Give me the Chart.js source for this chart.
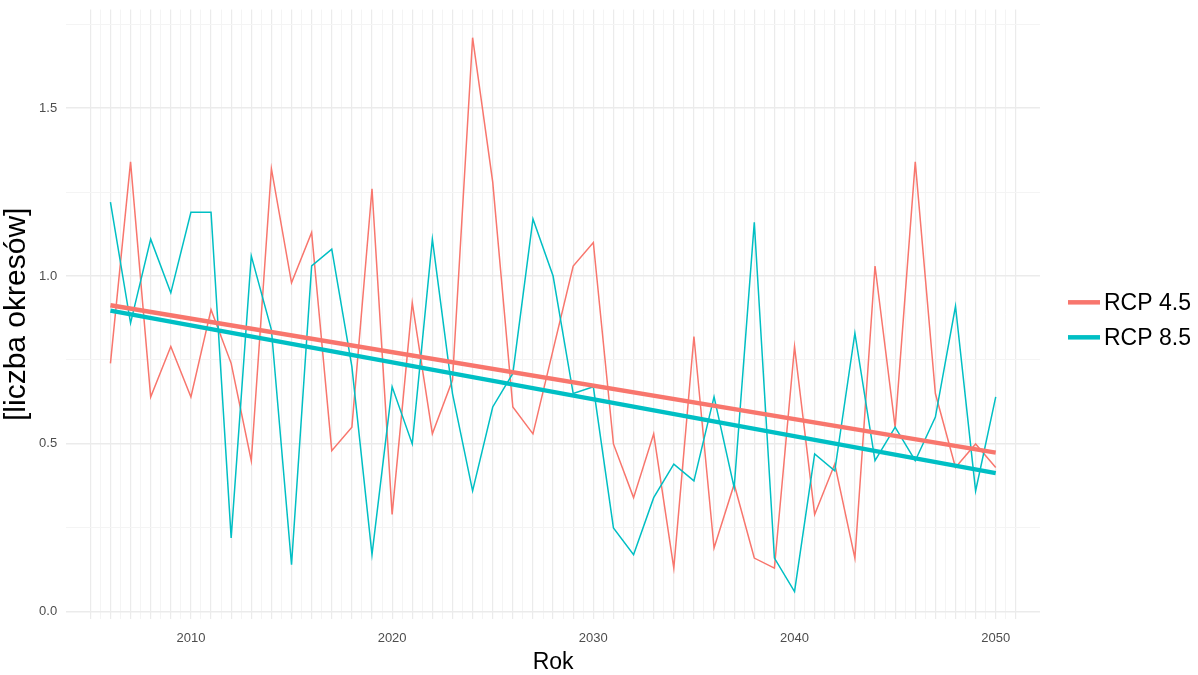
<!DOCTYPE html>
<html>
<head>
<meta charset="utf-8">
<script src="https://cdn.jsdelivr.net/npm/chart.js@4.4.1/dist/chart.umd.min.js"></script>
<style>
  html, body { margin: 0; padding: 0; background: #fff; }
</style>
</head>
<body>
<canvas id="chart" width="1198" height="675"></canvas>
<script>
var years = [2006, 2007, 2008, 2009, 2010, 2011, 2012, 2013, 2014, 2015,
  2016, 2017, 2018, 2019, 2020, 2021, 2022, 2023, 2024, 2025,
  2026, 2027, 2028, 2029, 2030, 2031, 2032, 2033, 2034, 2035,
  2036, 2037, 2038, 2039, 2040, 2041, 2042, 2043, 2044, 2045,
  2046, 2047, 2048, 2049, 2050];

var rcp45 = [0.74, 1.34, 0.64, 0.79, 0.64, 0.90, 0.74, 0.45, 1.32, 0.98,
  1.13, 0.48, 0.55, 1.26, 0.29, 0.92, 0.53, 0.69, 1.71, 1.28,
  0.61, 0.53, 0.78, 1.03, 1.10, 0.50, 0.34, 0.53, 0.13, 0.82,
  0.19, 0.38, 0.16, 0.13, 0.79, 0.29, 0.44, 0.16, 1.03, 0.55,
  1.34, 0.65, 0.43, 0.50, 0.43];

var rcp85 = [1.22, 0.86, 1.11, 0.95, 1.19, 1.19, 0.22, 1.06, 0.84, 0.14,
  1.03, 1.08, 0.73, 0.17, 0.67, 0.50, 1.11, 0.65, 0.36, 0.61,
  0.71, 1.17, 1.00, 0.65, 0.67, 0.25, 0.17, 0.34, 0.44, 0.39,
  0.64, 0.37, 1.16, 0.16, 0.06, 0.47, 0.42, 0.83, 0.45, 0.55,
  0.45, 0.58, 0.91, 0.36, 0.64];

// linear trend at both ends
var trendYears = [2006, 2050];
var trend45 = [0.913, 0.474];
var trend85 = [0.897, 0.413];

var seriesNames = ["RCP 4.5", "RCP 8.5"];
var colors = ["#F8766D", "#00BFC4"];
var FONT = "Liberation Sans, Arial, sans-serif";

function pts(xs, ys) {
  return xs.map(function (x, i) { return { x: x, y: ys[i] }; });
}

function isHalf(v) {
  return Math.abs(v * 2 - Math.round(v * 2)) < 1e-6;
}

// ggplot-like legend at the right: short thick line + label
var sideLegend = {
  id: "sideLegend",
  afterDraw: function (chart) {
    var c = chart.ctx, a = chart.chartArea;
    var x0 = a.right + 28, mid = (a.top + a.bottom) / 2 + 5.5;
    c.save();
    c.font = "23px " + FONT;
    c.textBaseline = "middle";
    c.fillStyle = "#000";
    seriesNames.forEach(function (n, i) {
      var y = mid + (i - 0.5) * 35;
      c.strokeStyle = colors[i];
      c.lineWidth = 4.5;
      c.beginPath();
      c.moveTo(x0, y);
      c.lineTo(x0 + 32, y);
      c.stroke();
      c.fillText(n, x0 + 36, y + 1);
    });
    c.restore();
  }
};

var ctx = document.getElementById("chart");

new Chart(ctx, {
  type: "line",
  data: {
    datasets: [
      { label: seriesNames[0], data: pts(years, rcp45), borderColor: colors[0],
        borderWidth: 1.5, pointRadius: 0, order: 3 },
      { label: seriesNames[1], data: pts(years, rcp85), borderColor: colors[1],
        borderWidth: 1.5, pointRadius: 0, order: 2 },
      { label: "trend " + seriesNames[0], data: pts(trendYears, trend45), borderColor: colors[0],
        borderWidth: 4.5, pointRadius: 0, order: 1 },
      { label: "trend " + seriesNames[1], data: pts(trendYears, trend85), borderColor: colors[1],
        borderWidth: 4.5, pointRadius: 0, order: 0 }
    ]
  },
  options: {
    responsive: false,
    animation: false,
    devicePixelRatio: 1,
    layout: { padding: { top: 0, right: 158, bottom: 5.75, left: 0 } },
    plugins: {
      tooltip: { enabled: false },
      legend: { display: false }
    },
    scales: {
      x: {
        type: "linear",
        min: 2003.8,
        max: 2052.2,
        afterBuildTicks: function (axis) {
          var t = [];
          for (var v = 2005; v <= 2051; v += 0.5) t.push({ value: v });
          axis.ticks = t;
        },
        ticks: {
          autoSkip: false,
          maxRotation: 0,
          padding: 11,
          color: "#4D4D4D",
          font: { family: FONT, size: 13 },
          callback: function (v) { return v % 10 === 0 ? String(v) : ""; }
        },
        grid: {
          drawTicks: false,
          color: function (c) { return c.tick && c.tick.value % 1 === 0 ? "#EBEBEB" : "#F4F4F4"; },
          lineWidth: function (c) { return c.tick && c.tick.value % 1 === 0 ? 1.2 : 1; }
        },
        border: { display: false },
        title: {
          display: true,
          text: "Rok",
          color: "#000",
          padding: { top: 0, bottom: 0 },
          font: { family: FONT, size: 23, lineHeight: 0.543 }
        }
      },
      y: {
        min: -0.022,
        max: 1.794,
        afterBuildTicks: function (axis) {
          var t = [];
          for (var v = 0; v <= 1.75; v += 0.25) t.push({ value: v });
          axis.ticks = t;
        },
        afterFit: function (scale) {
          scale.paddingTop = 9.5;
        },
        ticks: {
          padding: 9,
          color: "#4D4D4D",
          font: { family: FONT, size: 13 },
          callback: function (v) { return isHalf(v) ? v.toFixed(1) : ""; }
        },
        grid: {
          drawTicks: false,
          color: function (c) { return c.tick && isHalf(c.tick.value) ? "#EBEBEB" : "#F4F4F4"; },
          lineWidth: function (c) { return c.tick && isHalf(c.tick.value) ? 1.5 : 1; }
        },
        border: { display: false },
        title: {
          display: true,
          text: "[liczba okresów]",
          color: "#000",
          padding: { top: 4, bottom: 0 },
          font: { family: FONT, size: 30, lineHeight: 0.87 }
        }
      }
    }
  },
  plugins: [sideLegend]
});
</script>
</body>
</html>
